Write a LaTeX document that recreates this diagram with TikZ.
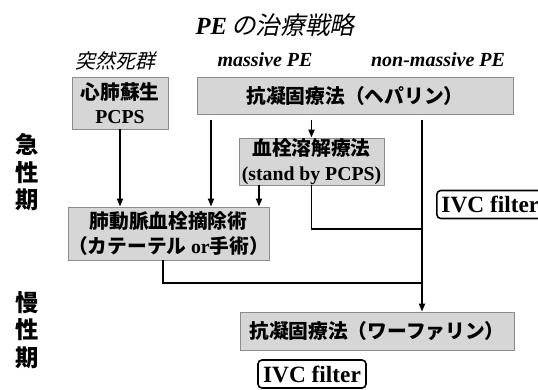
\documentclass[tikz,border=0pt]{standalone}
\usepackage{fontspec}
\setmainfont{Liberation Serif}
\newfontfamily\jp{Noto Sans CJK JP}
\newfontfamily\jpi{Noto Sans CJK JP}[FakeSlant=0.22]
\usetikzlibrary{arrows.meta}
\definecolor{boxfill}{RGB}{214,214,214}
\definecolor{boxline}{RGB}{140,140,140}
\begin{document}
\begin{tikzpicture}[x=0.75pt,y=-0.75pt,
  box/.style={draw=boxline, fill=boxfill, line width=0.6pt, inner sep=0pt, align=center,
    font=\fontsize{14.8}{18.5}\selectfont\bfseries},
  ivcbox/.style={draw=black, line width=1.2pt, rounded corners=3pt, inner xsep=3.5pt, inner ysep=0pt,
    minimum height=21pt, font=\fontsize{17.5}{18}\selectfont\bfseries},
  conn/.style={line width=1.4pt},
  arr/.style={conn, -{Triangle[length=6pt,width=4.5pt]}},
  hepline/.style={shorten <=4pt},
  phase/.style={align=center, font=\jp\bfseries\fontsize{17.5}{20.6}\selectfont},
  head/.style={font=\fontsize{15}{16}\selectfont}
]
\clip (0,0) rectangle (538,389);
\fill[white] (0,0) rectangle (538,389);

% titles
\node (title) at (275,25) {\fontsize{18.5}{20}\selectfont{\bfseries\itshape PE}\,{\jpi の治療戦略}};
\node[head] (h1) at (115,61) {\jpi 突然死群};
\node[head] (h2) at (265,60) {\bfseries\itshape massive PE};
\node[head] (h3) at (438,60) {\bfseries\itshape non-massive PE};

% phases
\node[phase] (acute) at (27,172.5) {急\\性\\期};
\node[phase] (chronic) at (27,330) {慢\\性\\期};

% boxes
\node[box, minimum width=72pt, minimum height=39pt] (cpr) at (120,103)
  {{\jp 心肺蘇生}\\PCPS};
\node[box, minimum width=237pt, minimum height=27.75pt] (hep) at (355,95.5)
  {\jp 抗凝固療法（ヘパリン）};
\node[box, minimum width=108.75pt, minimum height=35.25pt] (thr) at (311.5,161.5)
  {{\jp 血栓溶解療法}\\(stand by PCPS)};
\node[box, minimum width=150.75pt, minimum height=39.75pt] (emb) at (168.5,233.5)
  {{\jp 肺動脈血栓摘除術}\\{\jp （カテーテル }or{\jp 手術）}};
\node[box, minimum width=205.5pt, minimum height=28.5pt] (war) at (377,331)
  {\jp 抗凝固療法（ワーファリン）};

\node[ivcbox, anchor=west] (ivc1) at (436,204.5) {IVC filter};
\node[ivcbox, minimum width=81pt] (ivc2) at (312,374) {IVC filter};

% helper coordinates
\coordinate (xa) at (211,0);
\coordinate (xb) at (422,0);
\coordinate (xc) at (259,0);
\coordinate (xd) at (163,0);
\coordinate (j1) at (422,229);
\coordinate (j2) at (422,283);

% connectors
\draw[arr] (cpr.south) -- (cpr.south |- emb.north);
\draw[arr, hepline] (hep.south -| xa) -- (emb.north -| xa);
\draw[arr, hepline] (thr.north |- hep.south) -- (thr.north);
\draw[arr, hepline] (hep.south -| xb) -- (war.north -| xb);
\draw[arr] (thr.south -| xc) -- (emb.north -| xc);
\draw[conn] (thr.south) |- (j1);
\draw[conn] (emb.south -| xd) |- (j2);
\end{tikzpicture}
\end{document}
